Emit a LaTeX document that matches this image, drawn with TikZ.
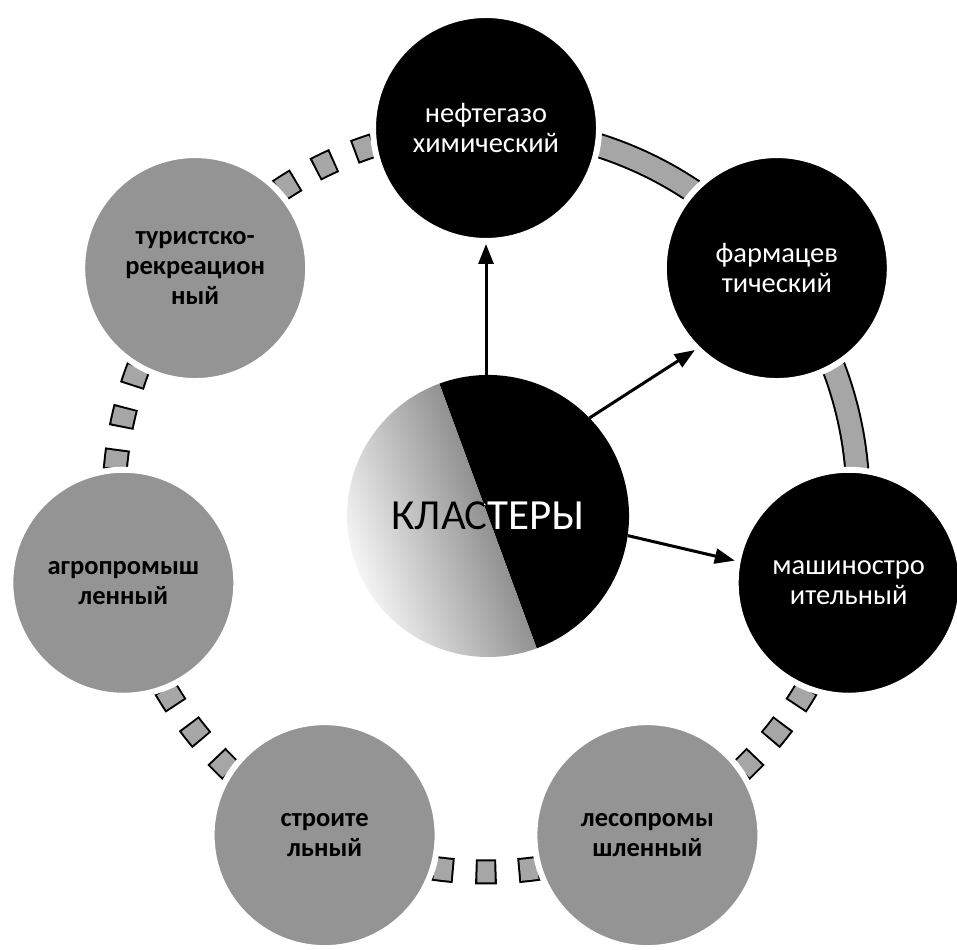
\documentclass[tikz,border=0pt]{standalone}
\usepackage{fontspec}
\setmainfont{Carlito}
\usetikzlibrary{arrows.meta,backgrounds}
\begin{document}
\begin{tikzpicture}[x=1pt,y=1pt,
  bubble/.style={circle, minimum size=226pt, inner sep=0pt, draw=white, line width=6pt, align=center},
  darkbub/.style={bubble, fill=black, text=white, font=\fontsize{28.5}{30}\selectfont},
  greybub/.style={bubble, fill=black!42, text=black, font=\fontsize{26.5}{30}\selectfont\bfseries},
  bandout/.style={draw=black, line width=25pt},
  bandin/.style={draw=black!35, line width=21pt},
  dashout/.style={bandout, dash pattern=on 0pt off 113.6pt on 21pt off 21.85pt on 21pt off 21.85pt on 21pt off 400pt},
  dashin/.style={bandin, dash pattern=on 0pt off 115.6pt on 17pt off 25.85pt on 17pt off 25.85pt on 17pt off 400pt},
  arr/.style={line width=3pt, -{Triangle[length=20pt,width=15pt]}},
  bigtext/.style={font=\fontsize{43}{50}\selectfont, inner sep=0pt},
]
\useasboundingbox (0,0) rectangle (957,949);
\coordinate (ring) at (486,449);

% outer circles
\node[darkbub] (neft)  at ([shift={(90:372)}]ring)        {нефтегазо\\химический};
\node[darkbub] (farm)  at ([shift={(38.5714:372)}]ring)   {фармацев\\тический};
\node[darkbub] (mash)  at ([shift={(-12.8571:372)}]ring)  {машиностро\\ительный};
\node[greybub] (les)   at ([shift={(-64.2857:372)}]ring)  {лесопромы\\шленный};
\node[greybub] (stroi) at ([shift={(-115.7143:372)}]ring) {строите\\льный};
\node[greybub] (agro)  at ([shift={(-167.1429:372)}]ring) {агропромыш\\ленный};
\node[greybub] (tour)  at ([shift={(141.4286:372)}]ring)  {туристско-\\рекреацион\\ный};

% ring bands between the circles
\begin{scope}[on background layer]
  \draw[bandout] (neft.center) arc[start angle=90, end angle=38.5714, radius=372];
  \draw[bandin]  (neft.center) arc[start angle=90, end angle=38.5714, radius=372];
  \draw[bandout] (farm.center) arc[start angle=38.5714, end angle=-12.8571, radius=372];
  \draw[bandin]  (farm.center) arc[start angle=38.5714, end angle=-12.8571, radius=372];
  \draw[dashout] (mash.center) arc[start angle=-12.8571, end angle=-64.2857, radius=372];
  \draw[dashin]  (mash.center) arc[start angle=-12.8571, end angle=-64.2857, radius=372];
  \draw[dashout] (les.center) arc[start angle=-64.2857, end angle=-115.7143, radius=372];
  \draw[dashin]  (les.center) arc[start angle=-64.2857, end angle=-115.7143, radius=372];
  \draw[dashout] (stroi.center) arc[start angle=-115.7143, end angle=-167.1429, radius=372];
  \draw[dashin]  (stroi.center) arc[start angle=-115.7143, end angle=-167.1429, radius=372];
  \draw[dashout] (agro.center) arc[start angle=192.8571, end angle=141.4286, radius=372];
  \draw[dashin]  (agro.center) arc[start angle=192.8571, end angle=141.4286, radius=372];
  \draw[dashout] (tour.center) arc[start angle=141.4286, end angle=90, radius=372];
  \draw[dashin]  (tour.center) arc[start angle=141.4286, end angle=90, radius=372];
\end{scope}

% central circle
\node[circle, minimum size=282pt, inner sep=0pt] (cl) at (488,433) {};
\fill[black] (cl.center) -- ++(110.2:141) arc[start angle=110.2, end angle=-69.8, radius=141] -- cycle;
\begin{scope}
  \clip (cl.center) -- ++(110.2:141) arc[start angle=110.2, end angle=290.2, radius=141] -- cycle;
  \shade[shading=axis, top color=black!4, bottom color=black!82, shading angle=110.2] (cl.center) circle[radius=141];
\end{scope}
\node[bigtext, text=white] (title) at (cl.center) {КЛАСТЕРЫ};
\begin{scope}
  \clip (cl.center) -- ++(110.2:170) arc[start angle=110.2, end angle=290.2, radius=170] -- cycle;
  \node[bigtext, text=black] at (title.center) {КЛАСТЕРЫ};
\end{scope}

% arrows
\draw[arr] (cl.north -| neft.south) -- (neft.south);
\draw[arr] (cl.44.4) -- (farm.225);
\draw[arr] (cl.-8.5) -- (mash.169);
\end{tikzpicture}
\end{document}
